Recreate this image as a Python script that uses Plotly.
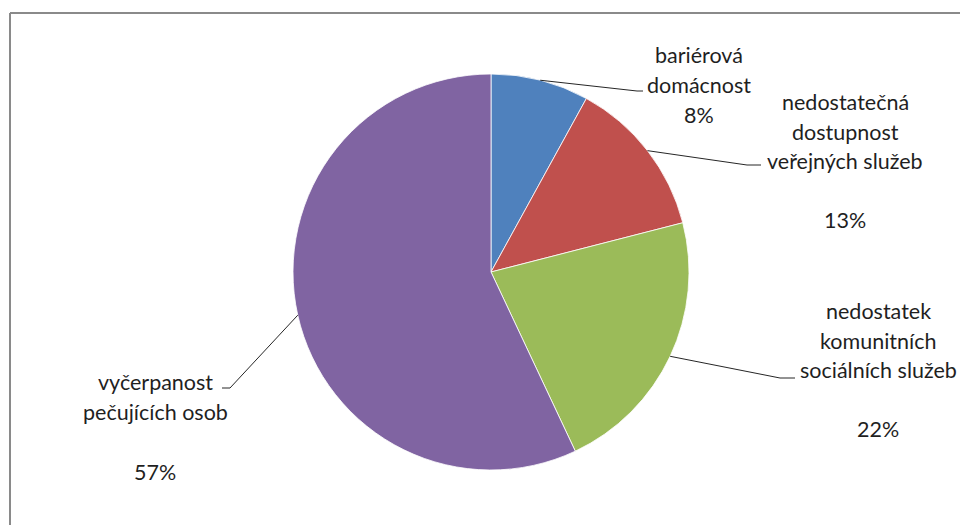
import math
import plotly.graph_objects as go

# Data
categories = [
    "bariérová domácnost",
    "nedostatečná dostupnost veřejných služeb",
    "nedostatek komunitních sociálních služeb",
    "vyčerpanost pečujících osob",
]
values = [8, 13, 22, 57]
colors = ["#4F81BD", "#C0504D", "#9BBB59", "#8064A2"]

# Label text lines for each slice (percentage line appended from values)
label_lines = [
    ["bariérová", "domácnost"],
    ["nedostatečná", "dostupnost", "veřejných služeb", ""],
    ["nedostatek", "komunitních", "sociálních služeb", ""],
    ["vyčerpanost", "pečujících osob", ""],
]

W, H = 960, 525
CX, CY, R = 491, 272, 198   # pie centre and radius in pixels

# Label layout: centre x, first line y, line spacing; leader elbow point
label_pos = [
    dict(x=699, y=55, dy=30, elbow=(637, 91), end=(643, 91)),
    dict(x=845, y=102, dy=29.5, elbow=(747, 165), end=(761, 165)),
    dict(x=878, y=311, dy=29.5, elbow=(780, 378), end=(795, 378)),
    dict(x=155, y=382, dy=30, elbow=(230, 388), end=(222, 388)),
]

FONT = dict(family="Lato", size=21.5, color="#1f1f1f")


def px(x, y):
    return x / W, 1 - y / H


fig = go.Figure()
fig.add_trace(go.Pie(
    labels=categories,
    values=values,
    sort=False,
    direction="clockwise",
    rotation=0,
    marker=dict(colors=colors, line=dict(color="white", width=0.8)),
    textinfo="none",
    hoverinfo="label+percent",
    showlegend=False,
    domain=dict(x=[(CX - R) / W, (CX + R) / W],
                y=[1 - (CY + R) / H, 1 - (CY - R) / H]),
))

total = sum(values)
annotations = []
shapes = []
cum = 0
for v, lines, pos in zip(values, label_lines, label_pos):
    mid = 90 - (cum + v / 2) / total * 360
    cum += v
    sx = CX + R * math.cos(math.radians(mid))
    sy = CY - R * math.sin(math.radians(mid))
    pct = f"{round(v / total * 100)}%"
    all_lines = lines + [pct]
    for i, t in enumerate(all_lines):
        if not t:
            continue
        ax, ay = px(pos["x"], pos["y"] + i * pos["dy"])
        annotations.append(dict(
            x=ax, y=ay, xref="paper", yref="paper", text=t,
            showarrow=False, xanchor="center", yanchor="middle", font=FONT,
        ))
    # leader line: slice edge -> elbow -> short horizontal
    ex, ey = pos["elbow"]
    fx, fy = pos["end"]
    x0, y0 = px(sx, sy)
    x1, y1 = px(ex, ey)
    x2, y2 = px(fx, fy)
    shapes.append(dict(type="path", xref="paper", yref="paper",
                       path=f"M {x0} {y0} L {x1} {y1} L {x2} {y2}",
                       line=dict(color="#262626", width=1)))

# chart area frame (top and left edges visible)
bx0, by0 = px(10, 13)
shapes.append(dict(type="line", xref="paper", yref="paper",
                   x0=bx0, y0=by0, x1=1.01, y1=by0,
                   line=dict(color="#8a8a8a", width=2)))
shapes.append(dict(type="line", xref="paper", yref="paper",
                   x0=bx0, y0=by0, x1=bx0, y1=-0.01,
                   line=dict(color="#8a8a8a", width=2)))

fig.update_layout(
    width=W, height=H,
    margin=dict(l=0, r=0, t=0, b=0),
    paper_bgcolor="white",
    plot_bgcolor="white",
    annotations=annotations,
    shapes=shapes,
)

fig.write_html("out.html")
